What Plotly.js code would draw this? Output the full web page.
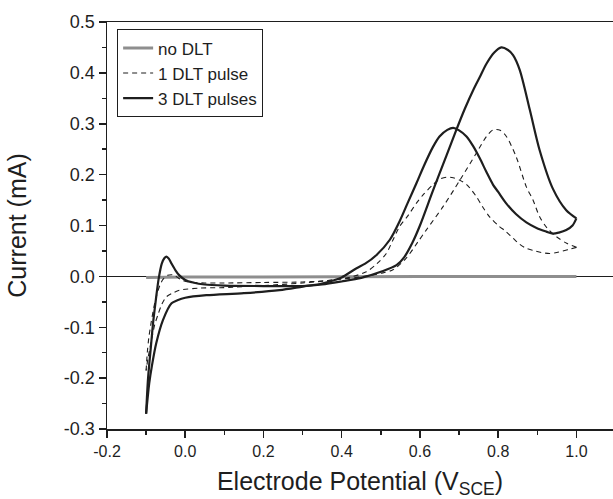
<!DOCTYPE html>
<html>
<head>
<meta charset="utf-8">
<script src="https://cdn.plot.ly/plotly-3.0.1.min.js"></script>
<style>html,body{margin:0;padding:0;background:#fff;}#chart{width:613px;height:499px;}</style>
</head>
<body>
<div id="chart"></div>
<script>
// ---- Data ----
const seriesNames = ["no DLT", "1 DLT pulse", "3 DLT pulses"];

// no DLT
const noDltX = [-0.100, 0.000, 0.200, 0.400, 0.600, 0.800, 1.000];
const noDltY = [-0.002, -0.001, -0.001, 0.000, 0.000, 0.000, 0.000];

// 1 DLT pulse, anodic (forward) scan
const oneFwdX = [-0.100, -0.097, -0.093, -0.087, -0.080, -0.074, -0.065, -0.057, -0.045, -0.031, -0.020, -0.010, 0.010, 0.050, 0.100, 0.200, 0.300, 0.350, 0.400, 0.450, 0.500, 0.531, 0.565, 0.595, 0.616, 0.659, 0.702, 0.744, 0.770, 0.787, 0.805, 0.821, 0.846, 0.872, 0.889, 0.906, 0.925, 0.949, 0.975, 1.000];
const oneFwdY = [-0.185, -0.150, -0.120, -0.090, -0.060, -0.040, -0.018, -0.006, 0.002, 0.003, -0.002, -0.007, -0.011, -0.013, -0.013, -0.012, -0.011, -0.009, -0.005, -0.001, 0.006, 0.013, 0.036, 0.068, 0.091, 0.137, 0.189, 0.242, 0.275, 0.288, 0.287, 0.275, 0.235, 0.176, 0.150, 0.117, 0.095, 0.078, 0.065, 0.057];
// 1 DLT pulse, cathodic (reverse) scan
const oneRevX = [1.000, 0.985, 0.965, 0.950, 0.932, 0.910, 0.890, 0.872, 0.855, 0.838, 0.820, 0.800, 0.778, 0.760, 0.744, 0.720, 0.702, 0.685, 0.668, 0.650, 0.633, 0.610, 0.591, 0.570, 0.548, 0.530, 0.514, 0.490, 0.463, 0.420, 0.380, 0.300, 0.200, 0.100, 0.037, -0.014, -0.030, -0.048, -0.060, -0.070, -0.078, -0.085, -0.090, -0.095, -0.100];
const oneRevY = [0.057, 0.054, 0.050, 0.047, 0.045, 0.047, 0.051, 0.055, 0.063, 0.075, 0.088, 0.100, 0.117, 0.137, 0.157, 0.180, 0.189, 0.194, 0.195, 0.191, 0.180, 0.162, 0.144, 0.120, 0.098, 0.070, 0.045, 0.025, 0.009, -0.002, -0.007, -0.013, -0.018, -0.022, -0.023, -0.027, -0.032, -0.040, -0.055, -0.076, -0.095, -0.120, -0.140, -0.160, -0.185];

// 3 DLT pulses, anodic (forward) scan
const threeFwdX = [-0.100, -0.095, -0.088, -0.082, -0.075, -0.068, -0.060, -0.053, -0.048, -0.042, -0.035, -0.025, -0.015, 0.000, 0.020, 0.050, 0.100, 0.200, 0.300, 0.350, 0.400, 0.450, 0.500, 0.540, 0.560, 0.580, 0.600, 0.633, 0.668, 0.693, 0.715, 0.736, 0.755, 0.770, 0.790, 0.808, 0.825, 0.838, 0.855, 0.881, 0.906, 0.940, 0.974, 1.000];
const threeFwdY = [-0.270, -0.200, -0.140, -0.090, -0.045, -0.005, 0.025, 0.036, 0.039, 0.035, 0.025, 0.012, 0.002, -0.007, -0.012, -0.016, -0.018, -0.019, -0.019, -0.016, -0.010, -0.003, 0.009, 0.022, 0.038, 0.065, 0.100, 0.168, 0.238, 0.288, 0.330, 0.366, 0.395, 0.418, 0.440, 0.450, 0.445, 0.435, 0.406, 0.327, 0.248, 0.172, 0.130, 0.114];
// 3 DLT pulses, cathodic (reverse) scan
const threeRevX = [1.000, 0.990, 0.974, 0.955, 0.940, 0.923, 0.898, 0.872, 0.846, 0.821, 0.800, 0.787, 0.770, 0.753, 0.736, 0.719, 0.700, 0.685, 0.670, 0.650, 0.633, 0.610, 0.591, 0.569, 0.549, 0.523, 0.489, 0.460, 0.438, 0.400, 0.378, 0.350, 0.300, 0.241, 0.150, 0.054, 0.000, -0.020, -0.035, -0.057, -0.074, -0.085, -0.092, -0.100];
const threeRevY = [0.114, 0.100, 0.091, 0.086, 0.084, 0.088, 0.095, 0.106, 0.122, 0.143, 0.166, 0.180, 0.205, 0.232, 0.256, 0.275, 0.287, 0.292, 0.288, 0.275, 0.254, 0.217, 0.183, 0.145, 0.110, 0.072, 0.042, 0.025, 0.016, -0.002, -0.008, -0.014, -0.020, -0.027, -0.033, -0.037, -0.042, -0.047, -0.053, -0.086, -0.131, -0.175, -0.210, -0.270];

// Tick labels
const xTickVals = [-0.2, 0.0, 0.2, 0.4, 0.6, 0.8, 1.0];
const xTickText = ["-0.2", "0.0", "0.2", "0.4", "0.6", "0.8", "1.0"];
const yTickVals = [-0.3, -0.2, -0.1, 0.0, 0.1, 0.2, 0.3, 0.4, 0.5];
const yTickText = ["-0.3", "-0.2", "-0.1", "0.0", "0.1", "0.2", "0.3", "0.4", "0.5"];

// ---- Styles ----
const ink = "#1e1e1e";
const FONT = "'Liberation Sans', Arial, Helvetica, sans-serif";

const traces = [
  { x: noDltX, y: noDltY, name: seriesNames[0], mode: "lines", legendgroup: "g0",
    line: { color: "#8e8e8e", width: 3 } },
  { x: oneFwdX, y: oneFwdY, name: seriesNames[1], mode: "lines", legendgroup: "g1",
    line: { color: ink, width: 1.1, dash: "5px,4px", shape: "spline", smoothing: 0.8 } },
  { x: oneRevX, y: oneRevY, name: seriesNames[1], mode: "lines", legendgroup: "g1", showlegend: false,
    line: { color: ink, width: 1.1, dash: "5px,4px", shape: "spline", smoothing: 0.8 } },
  { x: threeFwdX, y: threeFwdY, name: seriesNames[2], mode: "lines", legendgroup: "g2",
    line: { color: ink, width: 2.2, shape: "spline", smoothing: 0.8 } },
  { x: threeRevX, y: threeRevY, name: seriesNames[2], mode: "lines", legendgroup: "g2", showlegend: false,
    line: { color: ink, width: 2.2, shape: "spline", smoothing: 0.8 } }
];

const layout = {
  width: 613, height: 499,
  margin: { l: 107, r: 0, t: 22, b: 70, pad: 0 },
  paper_bgcolor: "#fff", plot_bgcolor: "#fff",
  font: { family: FONT, color: ink },
  showlegend: true,
  legend: {
    x: 0.02, y: 0.982, xanchor: "left", yanchor: "top",
    bgcolor: "rgba(255,255,255,0)", bordercolor: ink, borderwidth: 1,
    font: { family: FONT, size: 17, color: ink },
    traceorder: "normal", tracegroupgap: 0, itemwidth: 30
  },
  xaxis: {
    range: [-0.2, 1.0935], autorange: false,
    tickmode: "array", tickvals: xTickVals, ticktext: xTickText,
    ticks: "outside", ticklen: 7, tickwidth: 1.5, tickcolor: ink,
    minor: { tickmode: "linear", tick0: 0, dtick: 0.1, ticks: "outside", ticklen: 4, tickwidth: 1.5, tickcolor: ink },
    tickfont: { family: FONT, size: 16, color: ink },
    showline: true, linewidth: 1.5, linecolor: ink, mirror: true,
    showgrid: false, zeroline: false,
    title: { text: "Electrode Potential (V<sub>SCE</sub>)", font: { family: FONT, size: 25, color: ink } }
  },
  yaxis: {
    range: [-0.3, 0.5], autorange: false,
    tickmode: "array", tickvals: yTickVals, ticktext: yTickText,
    ticks: "outside", ticklen: 7, tickwidth: 1.5, tickcolor: ink,
    minor: { tickmode: "linear", tick0: 0, dtick: 0.05, ticks: "outside", ticklen: 4, tickwidth: 1.5, tickcolor: ink },
    tickfont: { family: FONT, size: 18, color: ink },
    showline: true, linewidth: 1.5, linecolor: ink, mirror: false,
    showgrid: false, zeroline: true, zerolinecolor: ink, zerolinewidth: 1,
    title: { text: "Current (mA)", standoff: 30, font: { family: FONT, size: 25, color: ink } }
  }
};

Plotly.newPlot("chart", traces, layout, { displayModeBar: false, staticPlot: true });
</script>
</body>
</html>
